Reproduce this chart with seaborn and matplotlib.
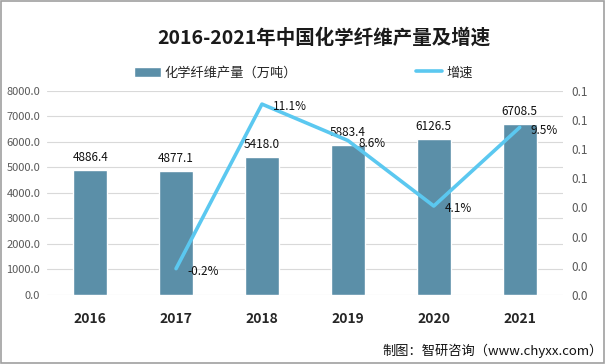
import numpy as np
import pandas as pd
import seaborn as sns
import matplotlib.pyplot as plt
from matplotlib.lines import Line2D
from matplotlib.patches import Patch

# data
years = ["2016", "2017", "2018", "2019", "2020", "2021"]
output = [4886.4, 4877.1, 5418.0, 5883.4, 6126.5, 6708.5]
growth = [None, -0.002, 0.111, 0.086, 0.041, 0.095]
growth_labels = ["", "-0.2%", "11.1%", "8.6%", "4.1%", "9.5%"]
left_ticks = [0, 1000, 2000, 3000, 4000, 5000, 6000, 7000, 8000]
right_ticks = [-0.02, 0.0, 0.02, 0.04, 0.06, 0.08, 0.10, 0.12]

sns.set_style("white")
plt.rcParams['font.family'] = ['Noto Sans CJK SC', 'DejaVu Sans']

bar_color = "#5B8FA8"
line_color = "#5BC8F0"

df = pd.DataFrame({"year": years, "output": output, "growth": growth})

fig = plt.figure(figsize=(6.05, 3.64), dpi=100)
ax = fig.add_axes([0.078, 0.19, 0.852, 0.56])

sns.barplot(data=df, x="year", y="output", color=bar_color, width=0.4,
            saturation=1, ax=ax, zorder=2)
ax.set_ylim(0, 8000)
ax.set_xlim(-0.5, 5.5)
ax.set_yticks(left_ticks)
ax.set_yticklabels([f"{v:.1f}" for v in left_ticks])
ax.grid(axis="y", color="#D9D9D9", lw=0.8, zorder=0)
ax.set_xlabel("")
ax.set_ylabel("")
for s in ax.spines.values():
    s.set_visible(False)
ax.tick_params(axis="y", length=0, labelsize=8, labelcolor="#595959", pad=5)
ax.tick_params(axis="x", length=0, pad=12)
for lab in ax.get_xticklabels():
    lab.set_fontweight("bold")
    lab.set_fontsize(10)
    lab.set_color("#262626")

for i, v in enumerate(output):
    ax.text(i, v + 230, f"{v:.1f}", ha="center", va="bottom", fontsize=8.5, color="#111111", zorder=5)

ax2 = ax.twinx()
ax2.set_position(ax.get_position())
gdf = df.dropna()
sns.lineplot(x=[years.index(y) for y in gdf["year"]], y=gdf["growth"], color=line_color,
             lw=2.6, ax=ax2, zorder=4)
ax2.set_ylim(-0.02, 0.12)
ax2.set_yticks(right_ticks)
ax2.set_yticklabels([f"{abs(v):.1f}" for v in right_ticks])
ax2.set_ylabel("")
for s in ax2.spines.values():
    s.set_visible(False)
ax2.tick_params(axis="y", length=0, labelsize=8.5, labelcolor="#595959", pad=6.5)

for i, (g, t) in enumerate(zip(growth, growth_labels)):
    if g is None:
        continue
    ax2.annotate(t, (i, g), xytext=(8, -2), textcoords="offset points", ha="left", va="center",
                 fontsize=8.5, color="#111111", zorder=6)

fig.text(0.535, 0.895, "2016-2021年中国化学纤维产量及增速", ha="center", va="center",
         fontsize=14, fontweight="bold", color="#1a1a1a")

handles = [Patch(facecolor=bar_color, label="化学纤维产量（万吨）"),
           Line2D([0], [0], color=line_color, lw=2.6, label="增速")]
fig.legend(handles=handles, loc="center", bbox_to_anchor=(0.502, 0.80), ncol=2,
           frameon=False, fontsize=9.5, columnspacing=9, handlelength=2, handleheight=0.8,
           handletextpad=0.3)

fig.text(0.996, 0.035, "制图：智研咨询（www.chyxx.com）", ha="right", va="center",
         fontsize=9.5, color="#111111")

fig.add_artist(plt.Rectangle((0.002, 0.003), 0.996, 0.994, transform=fig.transFigure,
                             fill=False, edgecolor="#A0A0A0", lw=1.2))

fig.savefig("out.png", dpi=100)
